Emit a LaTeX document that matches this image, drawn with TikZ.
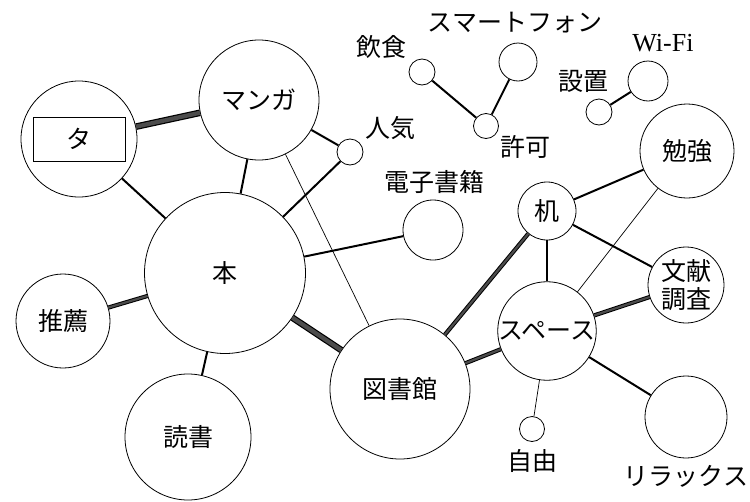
\documentclass[tikz,border=0pt]{standalone}
\usepackage{fontspec}
\setmainfont{Liberation Serif}
\newfontfamily\jp{Noto Sans CJK JP}
\begin{document}
\begin{tikzpicture}[x=1pt,y=-1pt,
  cn/.style={circle,draw,line width=0.8pt,inner sep=0pt,fill=white,font=\jp\fontsize{25}{27}\selectfont},
  lab/.style={inner sep=0pt,font=\jp\fontsize{25}{27}\selectfont},
  lthin/.style={line width=0.7pt},
  lmed/.style={line width=2pt},
  lhatch/.style={line width=1.2pt,double=black!70,double distance=4.2pt},
  lhatchs/.style={line width=1pt,double=black!70,double distance=2.2pt}]
\useasboundingbox (0,0) rectangle (750,501);
% main nodes
\node[cn,minimum size=116] (ta) at (79,139) {};
\node[draw,line width=0.8pt,minimum width=92,minimum height=44,inner sep=0pt,font=\jp\fontsize{25}{27}\selectfont] (tabox) at (79,139) {タ};
\node[cn,minimum size=120] (manga) at (259,100) {マンガ};
\node[cn,minimum size=26] (ninki) at (350,152) {};
\node[cn,minimum size=161] (hon) at (225,273) {本};
\node[cn,minimum size=94] (suisen) at (63,321) {推薦};
\node[cn,minimum size=126] (dokusho) at (188,437) {読書};
\node[cn,minimum size=140] (tosho) at (400,389) {図書館};
\node[cn,minimum size=60] (denshi) at (433,230) {};
\node[cn,minimum size=58] (tsukue) at (547,211) {机};
\node[cn,minimum size=94] (benkyo) at (687,151) {勉強};
\node[cn,minimum size=76,align=center,font=\jp\fontsize{25}{28}\selectfont] (bunken) at (686,285) {文献\\調査};
\node[cn,minimum size=92] (space) at (547,331) {スペース};
\node[cn,minimum size=25] (jiyu) at (532,429) {};
\node[cn,minimum size=82] (relax) at (686,417) {};
\node[cn,minimum size=26] (inshoku) at (422,72) {};
\node[cn,minimum size=38] (smart) at (518,62) {};
\node[cn,minimum size=25] (kyoka) at (486,126) {};
\node[cn,minimum size=40] (wifi) at (648,81) {};
\node[cn,minimum size=26] (setchi) at (599,112) {};
% labels
\node[lab] (l-ninki) at (390,128) {人気};
\node[lab] (l-denshi) at (434,182) {電子書籍};
\node[lab] (l-kyoka) at (525,147) {許可};
\node[lab] (l-inshoku) at (381,47) {飲食};
\node[lab] (l-smart) at (515,23) {スマートフォン};
\node[lab] (l-setchi) at (583,81) {設置};
\node[inner sep=0pt,font=\fontsize{26}{28}\selectfont] (l-wifi) at (663,43) {Wi-Fi};
\node[lab] (l-jiyu) at (532,461) {自由};
\node[lab] (l-relax) at (686,476) {リラックス};
% edges
\draw[lhatch] (ta) -- (manga);
\draw[lmed] (ta) -- (hon);
\draw[lmed] (manga) -- (hon);
\draw[lmed] (manga) -- (ninki);
\draw[lmed] (ninki) -- (hon);
\draw[lthin] (manga) -- (tosho);
\draw[lmed] (hon) -- (denshi);
\draw[lhatchs] (hon) -- (suisen);
\draw[lmed] (hon) -- (dokusho);
\draw[lhatch] (hon) -- (tosho);
\draw[lhatchs] (tosho) -- (tsukue);
\draw[lhatchs] (tosho) -- (space);
\draw[lmed] (tsukue) -- (benkyo);
\draw[lmed] (tsukue) -- (bunken);
\draw[lmed] (tsukue) -- (space);
\draw[lthin] (benkyo) -- (space);
\draw[lhatchs] (space) -- (bunken);
\draw[lmed] (space) -- (relax);
\draw[lthin] (space) -- (jiyu);
\draw[lmed] (inshoku) -- (kyoka);
\draw[lmed] (kyoka) -- (smart);
\draw[lmed] (setchi) -- (wifi);
\end{tikzpicture}
\end{document}
